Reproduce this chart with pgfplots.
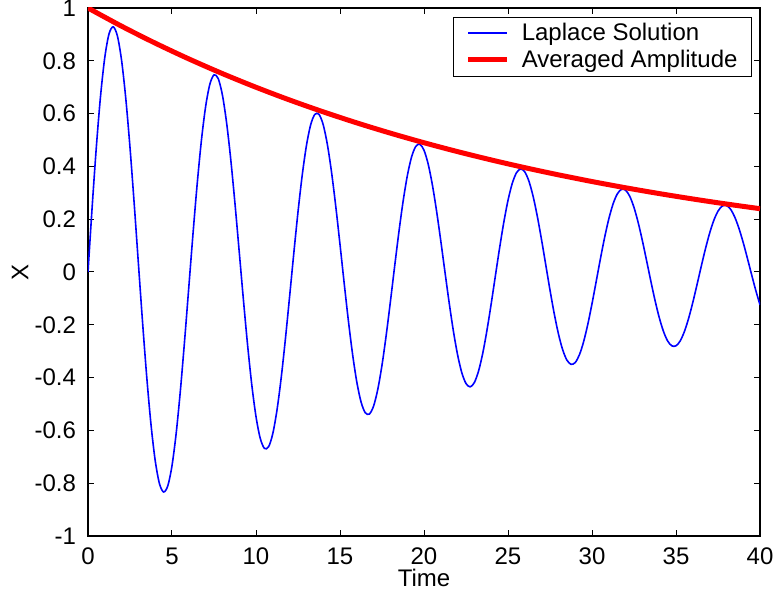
\documentclass[border=0pt]{standalone}
\usepackage{fontspec}
\setmainfont{Liberation Sans}
\usepackage{pgfplots}
\pgfplotsset{compat=1.18}

\begin{document}
\begin{tikzpicture}
\useasboundingbox (-44pt,-29pt) rectangle (344pt,268pt);
\begin{axis}[
  scale only axis,
  width=336pt, height=264pt,
  xmin=0, xmax=40, ymin=-1, ymax=1,
  xtick={0,5,...,40},
  ytick={-1,-0.8,-0.6,-0.4,-0.2,0,0.2,0.4,0.6,0.8,1},
  yticklabels={-1,-0.8,-0.6,-0.4,-0.2,0,0.2,0.4,0.6,0.8,1},
  xticklabels={0,5,10,15,20,25,30,35,40},
  tick align=inside, tick pos=both,
  major tick length=3pt,
  tick style={black, line width=0.5pt},
  axis line style={black, line width=0.6pt},
  font=\fontsize{12}{14}\selectfont,
  /pgf/number format/assume math mode=true,
  yticklabel style={xshift=-2.5pt},
  xticklabel style={yshift=-2.5pt},
  xlabel={Time}, ylabel={X},
  xlabel style={at={(axis description cs:0.5,-0.0795)}, anchor=center},
  ylabel style={at={(axis description cs:-0.101,0.5)}, anchor=center},
  legend cell align=left,
  legend image code/.code={%
    \draw[#1] (0pt,0.4pt) -- (19.5pt,0.4pt);
    \path (24.5pt,0pt);},
  legend style={at={(1,1)}, anchor=north east, xshift=-4pt, yshift=-4.5pt,
    draw=black, line width=0.5pt, inner xsep=6pt, inner ysep=2pt,
    font=\fontsize{12}{14}\selectfont,
    nodes={inner sep=1pt}, row sep=1pt},
]
% Laplace solution of the damped oscillator
\addplot[color=blue, draw=blue, line width=0.8pt, smooth] coordinates {
(0,0) (0.25,0.2486) (0.5,0.4762) (0.75,0.6685) (1,0.8131) (1.25,0.9015) (1.5,0.9287) (1.75,0.8942)
(2,0.8011) (2.25,0.6568) (2.5,0.4716) (2.75,0.2586) (3,0.0322) (3.25,-0.1923) (3.5,-0.4001) (3.75,-0.5778)
(4,-0.7142) (4.25,-0.8009) (4.5,-0.8333) (4.75,-0.8100) (5,-0.7337) (5.25,-0.6102) (5.5,-0.4485) (5.75,-0.2601)
(6,-0.0579) (6.25,0.1446) (6.5,0.3340) (6.75,0.4979) (7,0.6260) (7.25,0.7105) (7.5,0.7467) (7.75,0.7328)
(8,0.6707) (8.25,0.5653) (8.5,0.4247) (8.75,0.2583) (9,0.0779) (9.25,-0.1045) (9.5,-0.2768) (9.75,-0.4278)
(10,-0.5477) (10.25,-0.6294) (10.5,-0.6681) (10.75,-0.6620) (11,-0.6121) (11.25,-0.5228) (11.5,-0.4006) (11.75,-0.2540)
(12,-0.0932) (12.25,0.0709) (12.5,0.2274) (12.75,0.3661) (13,0.4781) (13.25,0.5567) (13.5,0.5970) (13.75,0.5972)
(14,0.5579) (14.25,0.4824) (14.5,0.3764) (14.75,0.2475) (15,0.1044) (15.25,-0.0430) (15.5,-0.1850) (15.75,-0.3122)
(16,-0.4166) (16.25,-0.4916) (16.5,-0.5328) (16.75,-0.5380) (17,-0.5077) (17.25,-0.4443) (17.5,-0.3527) (17.75,-0.2394)
(18,-0.1123) (18.25,0.0200) (18.5,0.1486) (18.75,0.2651) (19,0.3621) (19.25,0.4334) (19.5,0.4748) (19.75,0.4841)
(20,0.4613) (20.25,0.4084) (20.5,0.3295) (20.75,0.2301) (21,0.1174) (21.25,-0.0011) (21.5,-0.1175) (21.75,-0.2240)
(22,-0.3139) (22.25,-0.3814) (22.5,-0.4225) (22.75,-0.4350) (23,-0.4185) (23.25,-0.3747) (23.5,-0.3069) (23.75,-0.2200)
(24,-0.1201) (24.25,-0.0141) (24.5,0.0910) (24.75,0.1882) (25,0.2713) (25.25,0.3350) (25.5,0.3754) (25.75,0.3903)
(26,0.3791) (26.25,0.3432) (26.5,0.2851) (26.75,0.2093) (27,0.1209) (27.25,0.0262) (27.5,-0.0686) (27.75,-0.1572)
(28,-0.2338) (28.25,-0.2937) (28.5,-0.3331) (28.75,-0.3498) (29,-0.3430) (29.25,-0.3137) (29.5,-0.2642) (29.75,-0.1982)
(30,-0.1202) (30.25,-0.0357) (30.5,0.0498) (30.75,0.1304) (31,0.2010) (31.25,0.2570) (31.5,0.2950) (31.75,0.3130)
(32,0.3099) (32.25,0.2864) (32.5,0.2444) (32.75,0.1870) (33,0.1182) (33.25,0.0429) (33.5,-0.0339) (33.75,-0.1072)
(34,-0.1720) (34.25,-0.2243) (34.5,-0.2610) (34.75,-0.2797) (35,-0.2796) (35.25,-0.2610) (35.5,-0.2255) (35.75,-0.1758)
(36,-0.1153) (36.25,-0.0482) (36.5,0.0208) (36.75,0.0872) (37,0.1467) (37.25,0.1955) (37.5,0.2305) (37.75,0.2496)
(38,0.2519) (38.25,0.2376) (38.5,0.2077) (38.75,0.1647) (39,0.1116) (39.25,0.0520) (39.5,-0.0099) (39.75,-0.0701)
(40,-0.1246)
};
\addlegendentry{Laplace Solution}
% decaying envelope of the oscillation
\addplot[color=red, draw=red, line width=2.5pt, smooth] coordinates {
(0,1) (2,0.93109) (4,0.86693) (6,0.80719) (8,0.75157) (10,0.69978) (12,0.65155)
(14,0.60665) (16,0.56485) (18,0.52593) (20,0.48968) (22,0.45594) (24,0.42452)
(26,0.39527) (28,0.36803) (30,0.34266) (32,0.31905) (34,0.29707) (36,0.27659)
(38,0.25753) (40,0.23979)
};
\addlegendentry{Averaged Amplitude}
\end{axis}
\end{tikzpicture}
\end{document}
